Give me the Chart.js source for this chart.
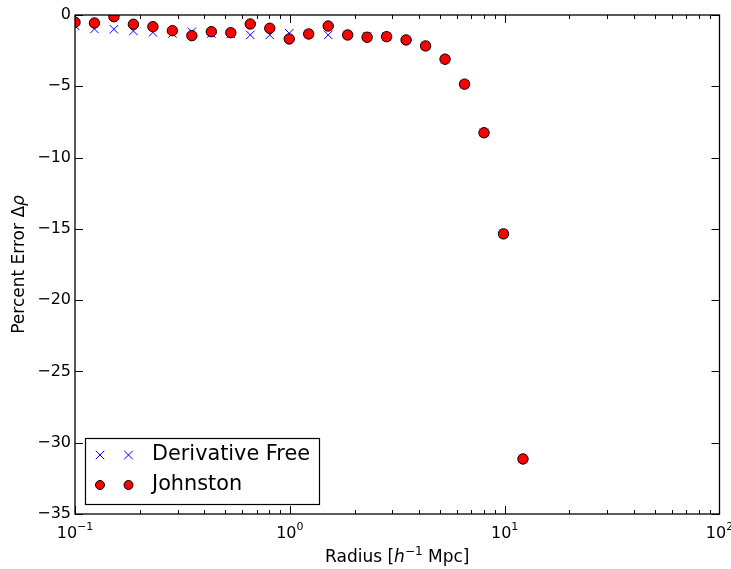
<!DOCTYPE html>
<html>
<head>
<meta charset="utf-8">
<script src="https://cdn.jsdelivr.net/npm/chart.js@4.4.1/dist/chart.umd.min.js"></script>
<style>
  html, body { margin: 0; padding: 0; background: #fff; }
</style>
</head>
<body>
<canvas id="errChart" width="731" height="569"></canvas>
<script>
// radius bins [h^-1 Mpc]
const radius = [0.1, 0.1232, 0.1518, 0.187, 0.2305, 0.284, 0.3499, 0.4311, 0.5312, 0.6545, 0.8065, 0.9937,
  1.224, 1.509, 1.859, 2.29, 2.822, 3.477, 4.284, 5.279, 6.504, 8.014, 9.874, 12.17];
// percent error
const derivFree = [-0.75, -0.98, -1.0, -1.12, -1.22, -1.3, -1.17, -1.3, -1.32, -1.4, -1.4, -1.28,
  -1.33, -1.4, -1.4, -1.5, -1.52, -1.75, -2.17, -3.1, -4.85, -8.26, -15.35, -31.14];
const johnston = [-0.51, -0.56, -0.12, -0.65, -0.82, -1.1, -1.45, -1.17, -1.24, -0.63, -0.93, -1.68,
  -1.33, -0.77, -1.4, -1.56, -1.52, -1.75, -2.17, -3.1, -4.85, -8.26, -15.35, -31.14];
const seriesNames = ['Derivative Free', 'Johnston'];
const xTickValues = [0.1, 1, 10, 100];
const xTickExps = ['\u22121', '0', '1', '2'];

const FONT = '"DejaVu Sans", sans-serif';

function pts(xs, ys) {
  return xs.map((x, i) => ({x: x, y: ys[i]}));
}

function drawMarker(ctx, style, x, y, r) {
  ctx.save();
  if (style === 'cross') {
    const d = r * 0.7071;
    ctx.strokeStyle = '#0000ff';
    ctx.lineWidth = 1;
    ctx.beginPath();
    ctx.moveTo(x - d, y - d); ctx.lineTo(x + d, y + d);
    ctx.moveTo(x - d, y + d); ctx.lineTo(x + d, y - d);
    ctx.stroke();
  } else {
    ctx.fillStyle = '#ff0000';
    ctx.strokeStyle = '#000';
    ctx.lineWidth = 1;
    ctx.beginPath();
    ctx.arc(x, y, r, 0, Math.PI * 2);
    ctx.fill();
    ctx.stroke();
  }
  ctx.restore();
}

// frame, inward ticks, x labels, axis titles and legend (matplotlib look)
const axesDecor = {
  id: 'axesDecor',
  afterDatasetsDraw(chart) {
    const { ctx, chartArea: {left, right, top, bottom} } = chart;
    const xs = chart.scales.x, ys = chart.scales.y;
    ctx.save();
    ctx.strokeStyle = '#000';
    ctx.lineWidth = 1;

    // ticks
    ctx.beginPath();
    for (let d = 0.1; d < 100; d *= 10) {
      for (let m = 1; m <= 9; m++) {
        const v = d * m;
        const px = Math.round(xs.getPixelForValue(v)) + 0.5;
        const len = m === 1 ? 8 : 4;
        ctx.moveTo(px, bottom); ctx.lineTo(px, bottom - len);
        ctx.moveTo(px, top); ctx.lineTo(px, top + len);
      }
    }
    ys.ticks.forEach(t => {
      const py = Math.round(ys.getPixelForValue(t.value)) + 0.5;
      ctx.moveTo(left, py); ctx.lineTo(left + 8, py);
      ctx.moveTo(right, py); ctx.lineTo(right - 8, py);
    });
    ctx.stroke();

    // frame
    ctx.lineWidth = 1.3;
    ctx.strokeRect(left, top, right - left, bottom - top);

    // x tick labels 10^n
    ctx.fillStyle = '#000';
    ctx.textBaseline = 'alphabetic';
    ctx.textAlign = 'left';
    xTickValues.forEach((v, i) => {
      const px = xs.getPixelForValue(v);
      ctx.font = '16px ' + FONT;
      const wb = ctx.measureText('10').width;
      ctx.font = '11px ' + FONT;
      const we = ctx.measureText(xTickExps[i]).width;
      const x0 = px - (wb + we) / 2;
      ctx.font = '16px ' + FONT;
      ctx.fillText('10', x0, 538);
      ctx.font = '11px ' + FONT;
      ctx.fillText(xTickExps[i], x0 + wb, 530);
    });

    // x title: Radius [h^-1 Mpc]
    const parts = [
      {t: 'Radius [', f: '17px ' + FONT, dy: 0},
      {t: 'h', f: 'italic 17px ' + FONT, dy: 0},
      {t: '\u22121', f: '12px ' + FONT, dy: -7},
      {t: ' Mpc]', f: '17px ' + FONT, dy: 0}
    ];
    let tw = 0;
    parts.forEach(p => { ctx.font = p.f; p.w = ctx.measureText(p.t).width; tw += p.w; });
    let cx = (left + right) / 2 - tw / 2;
    parts.forEach(p => { ctx.font = p.f; ctx.fillText(p.t, cx, 562 + p.dy); cx += p.w; });

    // y title: Percent Error Δρ
    ctx.save();
    ctx.translate(24, (top + bottom) / 2);
    ctx.rotate(-Math.PI / 2);
    const yparts = [
      {t: 'Percent Error \u0394', f: '17px ' + FONT},
      {t: '\u03c1', f: 'italic 17px ' + FONT}
    ];
    tw = 0;
    yparts.forEach(p => { ctx.font = p.f; p.w = ctx.measureText(p.t).width; tw += p.w; });
    cx = -tw / 2;
    yparts.forEach(p => { ctx.font = p.f; ctx.fillText(p.t, cx, 0); cx += p.w; });
    ctx.restore();

    // legend
    ctx.fillStyle = '#fff';
    ctx.fillRect(85.5, 438.5, 234, 66);
    ctx.lineWidth = 1.2;
    ctx.strokeRect(85.5, 438.5, 234, 66);
    drawMarker(ctx, 'cross', 100, 455, 6);
    drawMarker(ctx, 'cross', 128.5, 455, 6);
    drawMarker(ctx, 'circle', 100, 485, 4.5);
    drawMarker(ctx, 'circle', 128.5, 485, 4.5);
    ctx.fillStyle = '#000';
    ctx.font = '20.8px ' + FONT;
    ctx.textBaseline = 'middle';
    ctx.fillText(seriesNames[0], 152, 455);
    ctx.fillText(seriesNames[1], 152, 485);
    ctx.restore();
  }
};

const config = {
  type: 'scatter',
  data: {
    datasets: [
      {
        label: seriesNames[1],
        data: pts(radius, johnston),
        pointStyle: 'circle',
        pointRadius: 5.2,
        pointHoverRadius: 5.2,
        backgroundColor: '#ff0000',
        borderColor: '#000000',
        borderWidth: 1,
        clip: 0,
        order: 0
      },
      {
        label: seriesNames[0],
        data: pts(radius, derivFree),
        pointStyle: 'crossRot',
        pointRadius: 6,
        pointHoverRadius: 6,
        backgroundColor: '#0000ff',
        borderColor: '#0000ff',
        borderWidth: 1,
        clip: 0,
        order: 1
      }
    ]
  },
  options: {
    responsive: false,
    animation: false,
    events: [],
    layout: { padding: { top: 15, right: 11.5, left: 0, bottom: 0 } },
    plugins: {
      legend: { display: false },
      tooltip: { enabled: false }
    },
    scales: {
      x: {
        type: 'logarithmic',
        min: 0.1,
        max: 100,
        grid: { display: false, drawTicks: false },
        border: { display: false },
        ticks: { display: false },
        afterFit(scale) { scale.height = 55; }
      },
      y: {
        type: 'linear',
        min: -35,
        max: 0,
        grid: { display: false, drawTicks: false },
        border: { display: false },
        ticks: {
          stepSize: 5,
          padding: 4,
          color: '#000',
          font: { family: FONT, size: 16 },
          callback: v => String(v).replace('-', '\u2212')
        },
        afterFit(scale) { scale.width = 75; }
      }
    }
  },
  plugins: [axesDecor]
};

const errChart = new Chart(document.getElementById('errChart'), config);
</script>
</body>
</html>
